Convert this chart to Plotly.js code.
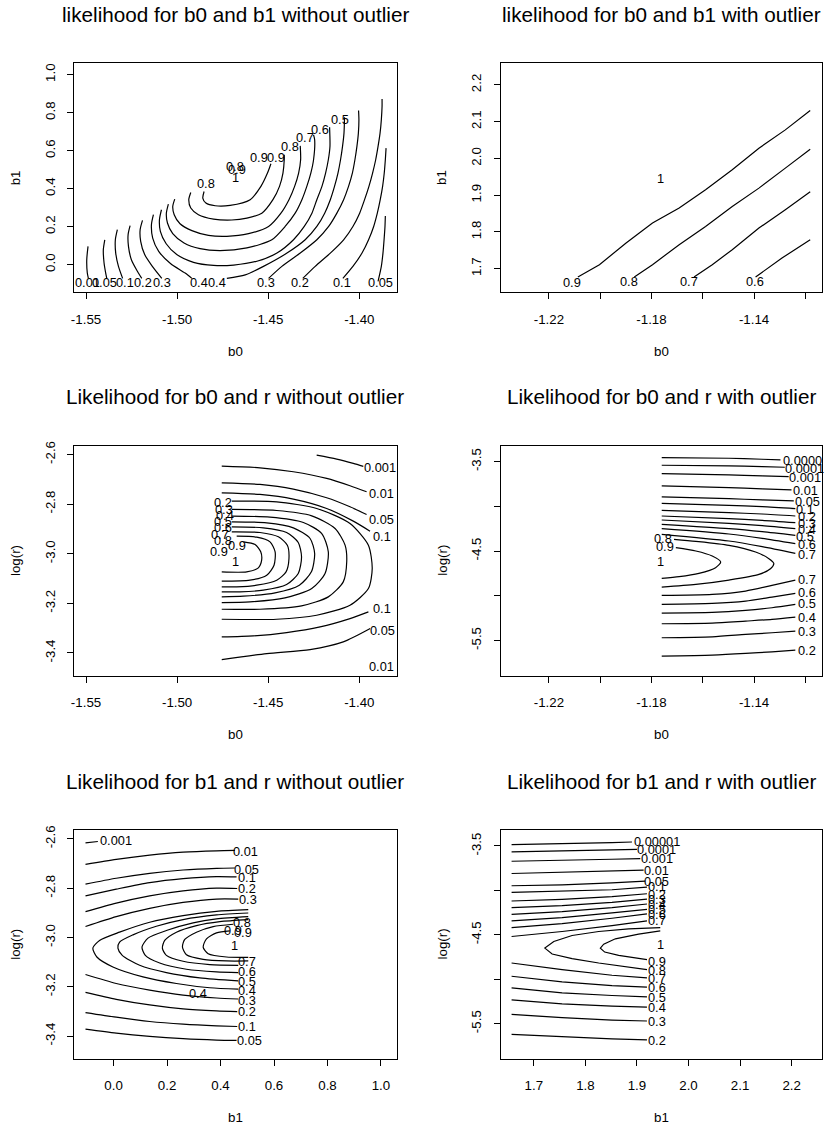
<!DOCTYPE html>
<html><head><meta charset="utf-8">
<script src="https://cdn.plot.ly/plotly-3.0.1.min.js"></script>
<style>html,body{margin:0;padding:0;background:#fff}#chart{width:826px;height:1129px}</style>
</head><body><div id="chart"></div>
<script>
// ===== Panel 1: likelihood for b0 and b1 without outlier =====
const p1_levels = ["0.01","0.05","0.1","0.2","0.3","0.4","0.4","0.5","0.6","0.7","0.8","0.9","0.3","0.2","0.1","0.05"];
const p1_x = [
 [-1.5489,-1.5496,-1.5493,-1.5487],
 [-1.5397,-1.5405,-1.5401,-1.5392,-1.5386],
 [-1.5328,-1.5339,-1.5337,-1.5322,-1.5299],
 [-1.5258,-1.5269,-1.5267,-1.5251,-1.5218,-1.5194],
 [-1.5190,-1.5203,-1.5200,-1.5178,-1.5136,-1.5084],
 [-1.5130,-1.5141,-1.5134,-1.5101,-1.5035,-1.4956,-1.4919],
 [-1.4727,-1.4626,-1.4526,-1.4397,-1.4297,-1.4233,-1.4190,-1.4159,-1.4136,-1.4117,-1.4103,-1.4092,-1.4084,-1.4081],
 [-1.5086,-1.5097,-1.5092,-1.5060,-1.5002,-1.4910,-1.4800,-1.4690,-1.4562,-1.4452,-1.4361,-1.4302,-1.4260,-1.4233,-1.4205,-1.4185,-1.4170,-1.4161,-1.4163],
 [-1.5048,-1.5059,-1.5053,-1.5024,-1.4962,-1.4874,-1.4764,-1.4617,-1.4480,-1.4407,-1.4352,-1.4315,-1.4288,-1.4266,-1.4251,-1.4245,-1.4251],
 [-1.5013,-1.5024,-1.5016,-1.4984,-1.4919,-1.4828,-1.4727,-1.4608,-1.4498,-1.4430,-1.4386,-1.4355,-1.4333,-1.4322,-1.4324],
 [-1.4925,-1.4936,-1.4925,-1.4883,-1.4800,-1.4700,-1.4617,-1.4535,-1.4474,-1.4438,-1.4419,-1.4412,-1.4412],
 [-1.4852,-1.4859,-1.4842,-1.4791,-1.4709,-1.4599,-1.4540,-1.4504,-1.4485],
 [-1.4498,-1.4425,-1.4324,-1.4233,-1.4168,-1.4123,-1.4086,-1.4059,-1.4038,-1.4024,-1.4013,-1.4005,-1.4002,-1.4004],
 [-1.4310,-1.4242,-1.4159,-1.4086,-1.4035,-1.3998,-1.3971,-1.3947,-1.3927,-1.3910,-1.3897,-1.3886,-1.3879,-1.3875,-1.3875],
 [-1.4090,-1.4035,-1.3985,-1.3949,-1.3921,-1.3901,-1.3885,-1.3872,-1.3863,-1.3857,-1.3853],
 [-1.3897,-1.3879,-1.3870,-1.3864,-1.3859,-1.3857]
];
const p1_y = [
 [0.096,0.026,-0.044,-0.072],
 [0.131,0.079,0.009,-0.044,-0.072],
 [0.184,0.131,0.061,-0.009,-0.072],
 [0.205,0.158,0.096,0.026,-0.035,-0.072],
 [0.233,0.184,0.123,0.053,-0.009,-0.072],
 [0.263,0.210,0.140,0.070,0.005,-0.044,-0.072],
 [-0.072,-0.054,-0.009,0.061,0.131,0.201,0.271,0.342,0.412,0.482,0.552,0.622,0.692,0.776],
 [0.289,0.236,0.175,0.110,0.053,0.012,-0.004,-0.002,0.018,0.061,0.131,0.201,0.271,0.342,0.412,0.482,0.552,0.622,0.723],
 [0.319,0.271,0.219,0.163,0.114,0.084,0.074,0.088,0.131,0.201,0.271,0.342,0.412,0.482,0.552,0.657,0.683],
 [0.345,0.306,0.263,0.215,0.179,0.154,0.149,0.163,0.201,0.271,0.342,0.412,0.482,0.552,0.625],
 [0.380,0.342,0.298,0.263,0.240,0.235,0.245,0.271,0.342,0.412,0.482,0.552,0.578],
 [0.385,0.350,0.324,0.310,0.312,0.342,0.412,0.482,0.531],
 [-0.072,-0.009,0.061,0.131,0.201,0.271,0.342,0.412,0.482,0.552,0.622,0.692,0.762,0.811],
 [-0.072,-0.009,0.061,0.131,0.201,0.271,0.342,0.412,0.482,0.552,0.622,0.692,0.762,0.832,0.872],
 [-0.072,-0.009,0.061,0.131,0.201,0.271,0.342,0.412,0.482,0.552,0.613],
 [-0.088,-0.009,0.061,0.131,0.201,0.256]
];
const p1_lab_text = ["0.01","0.05","0.1","0.2","0.3","0.4","0.4","0.3","0.2","0.1","0.05","0.8","0.8","0.9","1","0.9","0.9","0.8","0.7","0.6","0.5"];
const p1_lab_x = [-1.5493,-1.5396,-1.5284,-1.5189,-1.5084,-1.4881,-1.4780,-1.4511,-1.4324,-1.4095,-1.3885,-1.4841,-1.4681,-1.4672,-1.4681,-1.4553,-1.4456,-1.4383,-1.4297,-1.4214,-1.4104];
const p1_lab_y = [-0.096,-0.096,-0.096,-0.096,-0.096,-0.096,-0.096,-0.096,-0.096,-0.096,-0.096,0.427,0.517,0.503,0.457,0.562,0.562,0.623,0.667,0.711,0.764];

// ===== Panel 2: likelihood for b0 and b1 with outlier =====
const p2_levels = ["0.9","0.8","0.7","0.6"];
const p2_x = [
 [-1.2087,-1.2003,-1.1899,-1.1796,-1.1692,-1.1589,-1.1485,-1.1381,-1.1278,-1.1181],
 [-1.1867,-1.1796,-1.1692,-1.1589,-1.1485,-1.1381,-1.1278,-1.1181],
 [-1.1634,-1.1563,-1.1485,-1.1381,-1.1278,-1.1181],
 [-1.1394,-1.1291,-1.1181]
];
const p2_y = [
 [1.6774,1.7109,1.7697,1.8241,1.8649,1.9147,1.9690,2.0279,2.0777,2.1303],
 [1.6774,1.7109,1.7652,1.8150,1.8694,1.9192,1.9736,2.0252],
 [1.6774,1.7109,1.7516,1.8105,1.8603,1.9092],
 [1.6774,1.7290,1.7788]
];
const p2_lab_text = ["0.9","0.8","0.7","0.6","1"];
const p2_lab_x = [-1.2109,-1.1887,-1.1653,-1.1397,-1.1763];
const p2_lab_y = [1.6611,1.6638,1.6638,1.6638,1.9464];

// ===== Panel 3: Likelihood for b0 and r without outlier =====
const p3_levels = ["0.001","0.01","0.05","0.1","0.1","0.05","0.2","0.3","0.4","0.5","0.6","0.7","0.8","0.9"];
const p3_x = [
 [-1.4234,-1.4124,-1.4033,-1.3978],
 [-1.4755,-1.4545,-1.4362,-1.4179,-1.4051,-1.3960],
 [-1.4755,-1.4545,-1.4362,-1.4179,-1.4051,-1.3960],
 [-1.4755,-1.4545,-1.4362,-1.4179,-1.4033,-1.3941],
 [-1.4755,-1.4582,-1.4399,-1.4215,-1.4051,-1.3950],
 [-1.4755,-1.4508,-1.4270,-1.4088,-1.3940],
 [-1.4700,-1.4453,-1.4234,-1.4051,-1.3950,-1.3929,-1.3950,-1.4051,-1.4234,-1.4453,-1.4755],
 [-1.4700,-1.4453,-1.4261,-1.4133,-1.4078,-1.4069,-1.4088,-1.4170,-1.4317,-1.4545,-1.4755],
 [-1.4700,-1.4490,-1.4307,-1.4206,-1.4170,-1.4188,-1.4261,-1.4408,-1.4600,-1.4755],
 [-1.4700,-1.4508,-1.4362,-1.4270,-1.4245,-1.4263,-1.4329,-1.4462,-1.4636,-1.4755],
 [-1.4700,-1.4527,-1.4399,-1.4335,-1.4317,-1.4335,-1.4399,-1.4527,-1.4655,-1.4755],
 [-1.4700,-1.4545,-1.4444,-1.4395,-1.4386,-1.4402,-1.4453,-1.4563,-1.4673,-1.4755],
 [-1.4673,-1.4563,-1.4490,-1.4462,-1.4468,-1.4508,-1.4600,-1.4755],
 [-1.4636,-1.4572,-1.4541,-1.4536,-1.4554,-1.4618,-1.4755]
];
const p3_y = [
 [-2.6027,-2.6188,-2.6363,-2.6484],
 [-2.6471,-2.6538,-2.6699,-2.6968,-2.7264,-2.7506],
 [-2.7143,-2.7210,-2.7398,-2.7748,-2.8111,-2.8420],
 [-2.7546,-2.7613,-2.7802,-2.8178,-2.8689,-2.9093],
 [-3.3355,-3.3314,-3.3180,-3.2951,-3.2615,-3.2346],
 [-3.4269,-3.4027,-3.3866,-3.3557,-3.3019],
 [-2.7882,-2.7909,-2.8178,-2.8783,-2.9657,-3.0598,-3.1405,-3.2077,-3.2481,-3.2642,-3.2642],
 [-2.8218,-2.8259,-2.8474,-2.8985,-2.9657,-3.0329,-3.1136,-3.1741,-3.2104,-3.2239,-3.2239],
 [-2.8487,-2.8528,-2.8743,-2.9187,-2.9926,-3.0800,-3.1405,-3.1782,-3.1943,-3.1970],
 [-2.8716,-2.8756,-2.8958,-2.9388,-2.9993,-3.0733,-3.1271,-3.1580,-3.1714,-3.1741],
 [-2.8918,-2.8958,-2.9146,-2.9550,-3.0128,-3.0800,-3.1244,-3.1472,-3.1539,-3.1539],
 [-2.9119,-2.9146,-2.9321,-2.9657,-3.0195,-3.0733,-3.1069,-3.1271,-3.1338,-3.1338],
 [-2.9294,-2.9334,-2.9523,-2.9926,-3.0464,-3.0867,-3.1069,-3.1109],
 [-2.9523,-2.9630,-2.9926,-3.0262,-3.0571,-3.0733,-3.0733]
];
const p3_lab_text = ["0.001","0.01","0.05","0.1","0.1","0.05","0.01","0.2","0.3","0.4","0.5","0.6","0.7","0.8","0.9","0.9","1"];
const p3_lab_x = [-1.3886,-1.3877,-1.3877,-1.3877,-1.3877,-1.3871,-1.3877,-1.4746,-1.4742,-1.4737,-1.4746,-1.4750,-1.4764,-1.4746,-1.4673,-1.4768,-1.4682];
const p3_lab_y = [-2.6538,-2.7573,-2.8608,-2.9321,-3.2212,-3.3086,-3.4565,-2.7936,-2.8205,-2.8447,-2.8689,-2.8958,-2.9227,-2.9455,-2.9657,-2.9899,-3.0329];

// ===== Panel 4: Likelihood for b0 and r with outlier =====
const p4_levels = ["0.00001","0.0001","0.001","0.01","0.05","0.1","0.2","0.3","0.4","0.5","0.6","0.7","0.8","0.9","0.7","0.6","0.5","0.4","0.3","0.2"];
const p4_x = [
 [-1.1760,-1.1498,-1.1368,-1.1297],
 [-1.1760,-1.1498,-1.1368,-1.1280],
 [-1.1760,-1.1498,-1.1368,-1.1265],
 [-1.1760,-1.1498,-1.1368,-1.1254],
 [-1.1760,-1.1498,-1.1368,-1.1245],
 [-1.1760,-1.1498,-1.1368,-1.1239],
 [-1.1760,-1.1498,-1.1368,-1.1239],
 [-1.1760,-1.1498,-1.1368,-1.1239],
 [-1.1760,-1.1498,-1.1368,-1.1239],
 [-1.1760,-1.1498,-1.1368,-1.1239],
 [-1.1760,-1.1498,-1.1368,-1.1239],
 [-1.1760,-1.1498,-1.1368,-1.1239],
 [-1.1712,-1.1627,-1.1498,-1.1394,-1.1342,-1.1323,-1.1336,-1.1381,-1.1498,-1.1627,-1.1760],
 [-1.1705,-1.1627,-1.1563,-1.1530,-1.1550,-1.1615,-1.1692,-1.1760],
 [-1.1760,-1.1563,-1.1433,-1.1330,-1.1239],
 [-1.1760,-1.1563,-1.1433,-1.1330,-1.1239],
 [-1.1760,-1.1563,-1.1433,-1.1330,-1.1239],
 [-1.1760,-1.1563,-1.1433,-1.1330,-1.1239],
 [-1.1760,-1.1563,-1.1433,-1.1330,-1.1239],
 [-1.1760,-1.1563,-1.1433,-1.1330,-1.1239]
];
const p4_y = [
 [-3.4552,-3.4627,-3.4739,-3.4813],
 [-3.5410,-3.5485,-3.5560,-3.5634],
 [-3.6343,-3.6493,-3.6604,-3.6679],
 [-3.7724,-3.7910,-3.8060,-3.8172],
 [-3.8955,-3.9142,-3.9291,-3.9403],
 [-3.9664,-3.9888,-4.0037,-4.0261],
 [-4.0448,-4.0709,-4.0858,-4.1082],
 [-4.1082,-4.1381,-4.1567,-4.1828],
 [-4.1530,-4.1903,-4.2164,-4.2500],
 [-4.2015,-4.2500,-4.2836,-4.3246],
 [-4.2500,-4.3097,-4.3582,-4.4179],
 [-4.3134,-4.3881,-4.4515,-4.5261],
 [-4.3694,-4.3918,-4.4366,-4.5112,-4.5858,-4.6381,-4.6978,-4.7612,-4.8246,-4.8731,-4.9030],
 [-4.4627,-4.5000,-4.5560,-4.6231,-4.6866,-4.7500,-4.7873,-4.8060],
 [-4.9963,-4.9851,-4.9478,-4.8843,-4.8246],
 [-5.0970,-5.0858,-5.0597,-5.0149,-4.9739],
 [-5.1940,-5.1866,-5.1642,-5.1343,-5.0970],
 [-5.3134,-5.3060,-5.2836,-5.2649,-5.2388],
 [-5.4701,-5.4590,-5.4328,-5.4142,-5.3955],
 [-5.6754,-5.6642,-5.6455,-5.6269,-5.6082]
];
const p4_lab_text = ["0.0000","0.0001","0.001","0.01","0.05","0.1","0.2","0.3","0.4","0.5","0.6","0.7","0.8","0.9","1","0.7","0.6","0.5","0.4","0.3","0.2"];
const p4_lab_x = [-1.1213,-1.1203,-1.1200,-1.1200,-1.1190,-1.1200,-1.1194,-1.1194,-1.1194,-1.1200,-1.1194,-1.1194,-1.1757,-1.1747,-1.1763,-1.1194,-1.1194,-1.1194,-1.1194,-1.1194,-1.1194];
const p4_lab_y = [-3.4925,-3.5746,-3.6791,-3.8284,-3.9515,-4.0336,-4.1157,-4.1940,-4.2575,-4.3321,-4.4254,-4.5373,-4.3619,-4.4440,-4.6119,-4.8172,-4.9664,-5.0858,-5.2388,-5.3955,-5.6119];

// ===== Panel 5: Likelihood for b1 and r without outlier =====
const p5_levels = ["0.001","0.01","0.05","0.1","0.2","0.3","0.3","0.2","0.1","0.05","0.4","0.5","0.6","0.7","0.8","0.9"];
const p5_x = [
 [-0.105,-0.0588],
 [-0.105,0.010,0.135,0.260,0.385,0.45375],
 [-0.105,0.010,0.135,0.260,0.385,0.45375],
 [-0.105,0.010,0.135,0.260,0.385,0.460],
 [-0.105,0.010,0.135,0.260,0.385,0.4625],
 [-0.105,0.010,0.135,0.260,0.385,0.46625],
 [-0.105,0.010,0.135,0.260,0.385,0.46625],
 [-0.105,0.010,0.135,0.260,0.385,0.4625],
 [-0.105,0.010,0.135,0.260,0.385,0.4625],
 [-0.105,0.010,0.135,0.260,0.385,0.460],
 [0.50375,0.385,0.260,0.135,0.0225,-0.0525,-0.0775,-0.0625,-0.0025,0.110,0.235,0.360,0.46625],
 [0.50375,0.385,0.260,0.160,0.0725,0.0225,0.01625,0.0325,0.0975,0.1975,0.3225,0.46625],
 [0.50375,0.385,0.2975,0.1975,0.12875,0.10625,0.11875,0.1725,0.2725,0.385,0.46625],
 [0.50375,0.3975,0.310,0.235,0.19125,0.1825,0.1975,0.260,0.360,0.46625],
 [0.4475,0.3725,0.310,0.26625,0.2575,0.2725,0.335,0.4225,0.50375],
 [0.435,0.385,0.3475,0.335,0.35375,0.4225,0.50375]
];
const p5_y = [
 [-2.6161,-2.6107],
 [-2.7034,-2.6832,-2.6658,-2.6537,-2.6483,-2.6470],
 [-2.7839,-2.7597,-2.7396,-2.7262,-2.7195,-2.7181],
 [-2.8309,-2.8040,-2.7772,-2.7611,-2.7530,-2.7544],
 [-2.8953,-2.8604,-2.8309,-2.8107,-2.8000,-2.8013],
 [-2.9557,-2.9154,-2.8819,-2.8577,-2.8443,-2.8443],
 [-3.1503,-3.1866,-3.2134,-3.2336,-3.2456,-3.2497],
 [-3.2228,-3.2510,-3.2738,-3.2899,-3.2980,-3.3007],
 [-3.3047,-3.3235,-3.3409,-3.3517,-3.3584,-3.3611],
 [-3.3718,-3.3879,-3.4013,-3.4107,-3.4161,-3.4174],
 [-2.8872,-2.8940,-2.9114,-2.9383,-2.9785,-3.0121,-3.0430,-3.0792,-3.1195,-3.1597,-3.1866,-3.2040,-3.2094],
 [-2.9007,-2.9087,-2.9275,-2.9544,-2.9893,-3.0188,-3.0430,-3.0725,-3.1128,-3.1423,-3.1638,-3.1758],
 [-2.9154,-2.9248,-2.9409,-2.9718,-3.0027,-3.0389,-3.0725,-3.1034,-3.1289,-3.1396,-3.1423],
 [-2.9275,-2.9356,-2.9517,-2.9785,-3.0121,-3.0430,-3.0725,-3.0966,-3.1101,-3.1128],
 [-2.9463,-2.9557,-2.9785,-3.0081,-3.0389,-3.0698,-3.0886,-3.0953,-3.0953],
 [-2.9732,-2.9812,-3.0054,-3.0389,-3.0658,-3.0792,-3.0805]
];
const p5_lab_text = ["0.001","0.01","0.05","0.1","0.2","0.3","0.8","0.9","0.9","1","0.7","0.6","0.5","0.4","0.4","0.3","0.2","0.1","0.05"];
const p5_lab_x = [0.010,0.495,0.4975,0.4975,0.500,0.50375,0.48125,0.4475,0.4825,0.45375,0.4975,0.4975,0.4975,0.4975,0.31625,0.4975,0.4975,0.4975,0.510];
const p5_lab_y = [-2.6067,-2.6497,-2.7235,-2.7570,-2.8013,-2.8443,-2.9409,-2.9732,-2.9785,-3.0322,-3.0993,-3.1396,-3.1799,-3.2134,-3.2268,-3.2537,-3.3007,-3.3611,-3.4174];

// ===== Panel 6: Likelihood for b1 and r with outlier =====
const p6_levels = ["0.00001","0.0001","0.001","0.01","0.05","0.1","0.2","0.3","0.4","0.5","0.6","0.7","0.8","0.9","0.7","0.6","0.5","0.4","0.3","0.2"];
const p6_x = [
 [1.6568,1.7548,1.8516,1.8903],
 [1.6568,1.7548,1.8516,1.9000],
 [1.6568,1.7548,1.8516,1.9065],
 [1.6568,1.7548,1.8516,1.9129],
 [1.6568,1.7548,1.8516,1.9161],
 [1.6568,1.7548,1.8516,1.9194],
 [1.6568,1.7548,1.8516,1.9194],
 [1.6568,1.7548,1.8516,1.9194],
 [1.6568,1.7548,1.8516,1.9194],
 [1.6568,1.7548,1.8516,1.9194],
 [1.6568,1.7548,1.8516,1.9194],
 [1.6568,1.7548,1.8516,1.9194],
 [1.9452,1.8839,1.8258,1.7742,1.7387,1.7213,1.7355,1.7742,1.8258,1.8839,1.9194],
 [1.9452,1.9032,1.8581,1.8355,1.8290,1.8374,1.8645,1.9032,1.9194],
 [1.6568,1.7548,1.8516,1.9194],
 [1.6568,1.7548,1.8516,1.9194],
 [1.6568,1.7548,1.8516,1.9194],
 [1.6568,1.7548,1.8516,1.9194],
 [1.6568,1.7548,1.8516,1.9194],
 [1.6568,1.7548,1.8516,1.9194]
];
const p6_y = [
 [-3.4851,-3.4776,-3.4627,-3.4552],
 [-3.5672,-3.5597,-3.5448,-3.5373],
 [-3.6716,-3.6642,-3.6493,-3.6418],
 [-3.8097,-3.7985,-3.7836,-3.7724],
 [-3.9478,-3.9366,-3.9142,-3.8955],
 [-4.0224,-4.0112,-3.9925,-3.9627],
 [-4.1194,-4.1007,-4.0709,-4.0373],
 [-4.1940,-4.1716,-4.1343,-4.0970],
 [-4.2687,-4.2388,-4.1940,-4.1530],
 [-4.3433,-4.3060,-4.2537,-4.2127],
 [-4.4179,-4.3731,-4.3134,-4.2649],
 [-4.5187,-4.4627,-4.3955,-4.3433],
 [-4.4179,-4.4328,-4.4627,-4.5075,-4.5746,-4.6493,-4.7164,-4.7687,-4.8172,-4.8657,-4.8918],
 [-4.4552,-4.4925,-4.5448,-4.6045,-4.6493,-4.6940,-4.7313,-4.7612,-4.7799],
 [-4.8172,-4.8918,-4.9552,-4.9851],
 [-4.9664,-5.0299,-5.0709,-5.0896],
 [-5.0970,-5.1530,-5.1828,-5.1978],
 [-5.2313,-5.2761,-5.3022,-5.3134],
 [-5.3955,-5.4328,-5.4590,-5.4701],
 [-5.6194,-5.6493,-5.6716,-5.6828]
];
const p6_lab_text = ["0.00001","0.0001","0.001","0.01","0.05","0.1","0.2","0.3","0.4","0.5","0.6","0.7","1","0.9","0.8","0.7","0.6","0.5","0.4","0.3","0.2"];
const p6_lab_x = [1.9387,1.9387,1.9387,1.9387,1.9387,1.9387,1.9387,1.9387,1.9387,1.9387,1.9387,1.9387,1.9452,1.9387,1.9387,1.9387,1.9387,1.9387,1.9387,1.9387,1.9387];
const p6_lab_y = [-3.4440,-3.5373,-3.6418,-3.7724,-3.8955,-3.9590,-4.0410,-4.0970,-4.1567,-4.2127,-4.2687,-4.3433,-4.6119,-4.7985,-4.9030,-4.9925,-5.0970,-5.2015,-5.3209,-5.4701,-5.6866];

// ===== Titles, axis labels, ticks =====
const titles = ["likelihood for b0 and b1 without outlier","likelihood for b0 and b1 with outlier",
 "Likelihood for b0 and r without outlier","Likelihood for b0 and r with outlier",
 "Likelihood for b1 and r without outlier","Likelihood for b1 and r with outlier"];
const xTitles = ["b0","b0","b0","b0","b1","b1"];
const yTitles = ["b1","b1","log(r)","log(r)","log(r)","log(r)"];
const b0TicksA = [-1.55,-1.50,-1.45,-1.40], b0TextA = ["-1.55","-1.50","-1.45","-1.40"];
const b0TicksB = [-1.22,-1.20,-1.18,-1.16,-1.14,-1.12], b0TextB = ["-1.22","","-1.18","","-1.14",""];
const b1TicksA = [0,0.2,0.4,0.6,0.8,1.0], b1TextA = ["0.0","0.2","0.4","0.6","0.8","1.0"];
const b1TicksB = [1.7,1.8,1.9,2.0,2.1,2.2], b1TextB = ["1.7","1.8","1.9","2.0","2.1","2.2"];
const rTicksA = [-2.6,-2.8,-3.0,-3.2,-3.4], rTextA = ["-2.6","-2.8","-3.0","-3.2","-3.4"];
const rTicksB = [-3.5,-4.0,-4.5,-5.0,-5.5], rTextB = ["-3.5","","-4.5","","-5.5"];

// ---- build ----
const FONT = "Liberation Sans, Arial, Helvetica, sans-serif";
const W = 826, H = 1129;
const colX = [[74,397],[500.7,822]];
const rowY = [[63.3,292.3],[445.5,675.5],[830,1058.5]];
const ranges = [
 {x:[-1.5566,-1.3793], y:[-0.1454,1.0595], xt:[b0TicksA,b0TextA], yt:[b1TicksA,b1TextA]},
 {x:[-1.2388,-1.1135], y:[1.6357,2.2589], xt:[b0TicksB,b0TextB], yt:[b1TicksB,b1TextB]},
 {x:[-1.5566,-1.3793], y:[-3.491,-2.564], xt:[b0TicksA,b0TextA], yt:[rTicksA,rTextA]},
 {x:[-1.2388,-1.1135], y:[-5.892,-3.32], xt:[b0TicksB,b0TextB], yt:[rTicksB,rTextB]},
 {x:[-0.148,1.06], y:[-3.491,-2.564], xt:[b1TicksA,b1TextA], yt:[rTicksA,rTextA]},
 {x:[1.6357,2.2589], y:[-5.892,-3.32], xt:[b1TicksB,b1TextB], yt:[rTicksB,rTextB]}
];
const panels = [
 {xs:p1_x, ys:p1_y, lt:p1_lab_text, lx:p1_lab_x, ly:p1_lab_y, shape:'spline'},
 {xs:p2_x, ys:p2_y, lt:p2_lab_text, lx:p2_lab_x, ly:p2_lab_y, shape:'linear'},
 {xs:p3_x, ys:p3_y, lt:p3_lab_text, lx:p3_lab_x, ly:p3_lab_y, shape:'spline'},
 {xs:p4_x, ys:p4_y, lt:p4_lab_text, lx:p4_lab_x, ly:p4_lab_y, shape:'spline'},
 {xs:p5_x, ys:p5_y, lt:p5_lab_text, lx:p5_lab_x, ly:p5_lab_y, shape:'spline'},
 {xs:p6_x, ys:p6_y, lt:p6_lab_text, lx:p6_lab_x, ly:p6_lab_y, shape:'linear'}
];
const traces = [], annotations = [];
const layout = {width:W, height:H, margin:{l:0,r:0,t:0,b:0}, paper_bgcolor:'#fff', plot_bgcolor:'#fff',
  showlegend:false, hovermode:false, font:{family:FONT, color:'#000'}};
panels.forEach((p,i)=>{
  const k = i+1, sfx = k===1 ? '' : String(k);
  const c = i%2, r = Math.floor(i/2);
  const xd = [colX[c][0]/W, colX[c][1]/W];
  const yd = [1-rowY[r][1]/H, 1-rowY[r][0]/H];
  const R = ranges[i];
  const common = {showline:true, mirror:true, linecolor:'#000', linewidth:1, ticks:'outside', ticklen:6,
    tickwidth:1, tickcolor:'#000', showgrid:false, zeroline:false, fixedrange:true, tickmode:'array',
    tickfont:{family:FONT, size:13.3, color:'#000'}};
  layout['xaxis'+sfx] = Object.assign({}, common, {domain:xd, range:R.x, anchor:'y'+sfx,
    tickvals:R.xt[0], ticktext:R.xt[1], ticklabelstandoff:9});
  layout['yaxis'+sfx] = Object.assign({}, common, {domain:yd, range:R.y, anchor:'x'+sfx,
    tickvals:R.yt[0], ticktext:R.yt[1], tickangle:-90, ticklabelstandoff:7});
  p.xs.forEach((xx,j)=>{
    traces.push({type:'scatter', mode:'lines', x:xx, y:p.ys[j], xaxis:'x'+sfx, yaxis:'y'+sfx,
      line:{color:'#000', width:1.2, shape:p.shape, smoothing:0.7}, hoverinfo:'skip', showlegend:false});
  });
  p.lt.forEach((t,j)=>{
    annotations.push({text:t, x:p.lx[j], y:p.ly[j], xref:'x'+sfx, yref:'y'+sfx, showarrow:false,
      xanchor:'center', yanchor:'middle', font:{family:FONT, size:12.8, color:'#000'}});
  });
  const cx = (colX[c][0]+colX[c][1])/2/W;
  const titleY = [14.5, 396.7, 781.2][r];
  annotations.push({text:titles[i], x:cx, y:1-titleY/H, xref:'paper', yref:'paper', showarrow:false,
    xanchor:'center', yanchor:'middle', font:{family:FONT, size:20.7, color:'#000'}});
  annotations.push({text:xTitles[i], x:cx, y:1-(rowY[r][1]+59.3)/H, xref:'paper', yref:'paper', showarrow:false,
    xanchor:'center', yanchor:'middle', font:{family:FONT, size:13.3, color:'#000'}});
  annotations.push({text:yTitles[i], x:(colX[c][0]-58.5)/W, y:1-(rowY[r][0]+rowY[r][1])/2/H, xref:'paper', yref:'paper',
    showarrow:false, textangle:-90, xanchor:'center', yanchor:'middle', font:{family:FONT, size:13.3, color:'#000'}});
});
layout.annotations = annotations;
Plotly.newPlot('chart', traces, layout, {staticPlot:true, displayModeBar:false});
</script>
</body></html>
